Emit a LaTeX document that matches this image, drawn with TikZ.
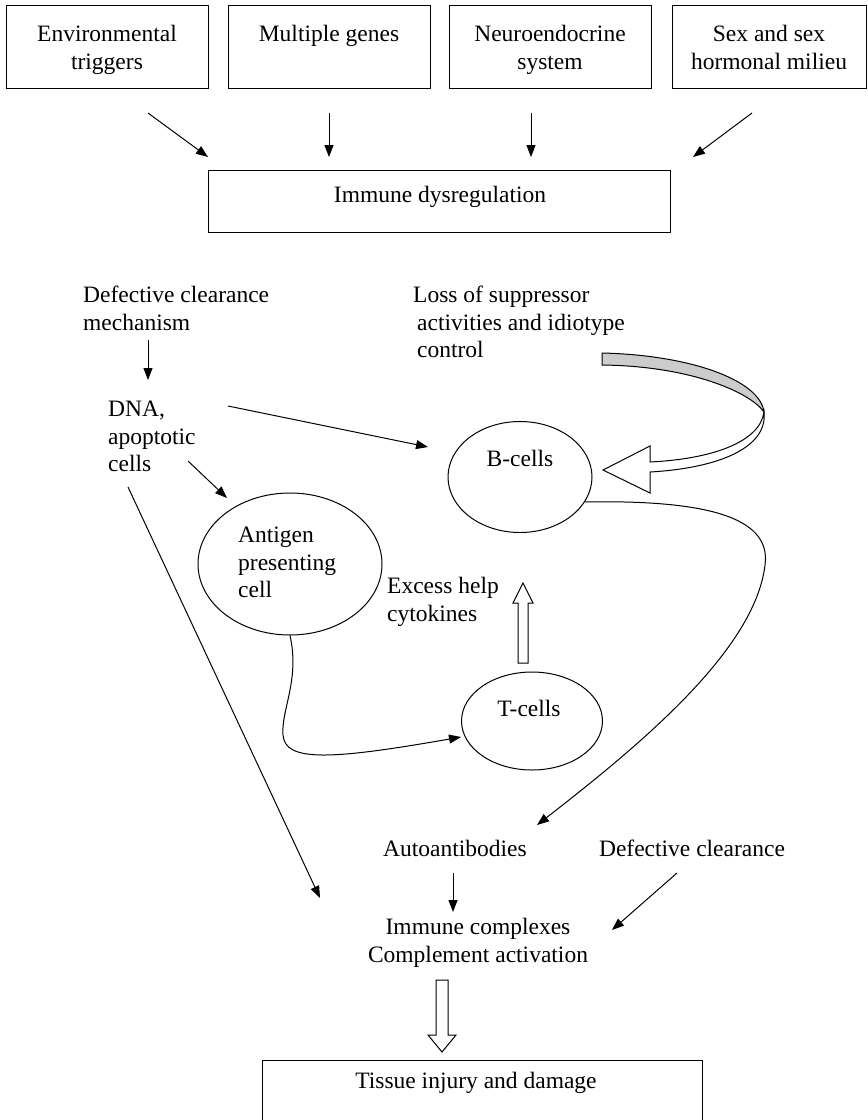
\documentclass[tikz,border=0pt]{standalone}
\usepackage{fontspec}
\setmainfont{Liberation Serif}
\usetikzlibrary{shapes.geometric, arrows.meta, positioning}
\tikzstyle{factor} = [rectangle, draw=black, line width=1pt, minimum width=202pt, minimum height=83pt]
\tikzstyle{cellnode} = [ellipse, draw=black, line width=1pt, inner sep=0pt]
\tikzstyle{txt} = [inner sep=0pt, align=left, font=\fontsize{23.5}{27.5}\selectfont]
\tikzstyle{arrow} = [line width=1pt, -{Triangle[length=12pt,width=9pt]}]
\tikzstyle{blockarrow} = [draw=black, line width=1pt, fill=white, line join=miter]

\begin{document}
\begin{tikzpicture}[x=1pt, y=-1pt]
\useasboundingbox (0,0) rectangle (868,1120);

% Top row of factors
\node (env) [factor] at (107,47) {};
\node (genes) [factor] at (329,47) {};
\node (neuro) [factor] at (550,47) {};
\node (sex) [factor, minimum width=194pt] at (769,47) {};
\node (envtxt) [txt, align=center, anchor=north] at (107,25) {Environmental\\triggers};
\node (genestxt) [txt, anchor=north] at (329,25) {Multiple genes};
\node (neurotxt) [txt, align=center, anchor=north] at (550,25) {Neuroendocrine\\system};
\node (sextxt) [txt, align=center, anchor=north] at (769,25) {Sex and sex\\hormonal milieu};

\node (imm) [factor, minimum width=462pt, minimum height=62pt] at (439,201) {};
\node (immtxt) [txt, anchor=north] at (440,186) {Immune dysregulation};

% Free arrow ends
\coordinate (a1s) at (148,113); \coordinate (a1e) at (208,157);
\coordinate (a2s) at (329,113); \coordinate (a2e) at (329,157);
\coordinate (a3s) at (531,113); \coordinate (a3e) at (531,157);
\coordinate (a4s) at (752,113); \coordinate (a4e) at (693,157);

% Middle part
\node (deftxt) [txt, anchor=north west] at (83,286) {Defective clearance\\mechanism};
\node (dnatxt) [txt, anchor=north west] at (108,401) {DNA,\\apoptotic\\cells};
\node (losstxt) [txt, anchor=north west] at (413,286) {Loss of suppressor\\\hspace{4pt}activities and idiotype\\\hspace{4pt}control};

\node (bcell) [cellnode, minimum width=144pt, minimum height=111pt] at (520,477) {};
\node (bcelltxt) [txt, anchor=north] at (520,450) {B-cells};
\node (apc) [cellnode, minimum width=184pt, minimum height=142pt] at (290,564) {};
\node (apctxt) [txt, anchor=north west] at (238,527) {Antigen\\presenting\\cell};
\node (exctxt) [txt, anchor=north west] at (387,577) {Excess help\\cytokines};
\node (tcell) [cellnode, minimum width=141pt, minimum height=98pt] at (532,721) {};
\node (tcelltxt) [txt, anchor=north] at (529,700) {T-cells};

% Lower part
\node (autotxt) [txt, anchor=north] at (455,840) {Autoantibodies};
\node (clrtxt) [txt, anchor=north] at (692,840) {Defective clearance};
\node (imctxt) [txt, align=center, anchor=north] at (478,918) {Immune complexes\\Complement activation};
\node (tissue) [factor, minimum width=440pt, minimum height=64pt] at (482,1092) {};
\node (tissuetxt) [txt, anchor=north] at (476,1072) {Tissue injury and damage};

% Arrows
\draw [arrow] (a1s) -- (a1e);
\draw [arrow] (a2s) -- (a2e);
\draw [arrow] (a3s) -- (a3e);
\draw [arrow] (a4s) -- (a4e);

\coordinate (d1s) at (148,340); \coordinate (d1e) at (148,380);
\draw [arrow] (d1s) -- (d1e);
\coordinate (dnab) at (228,406); \coordinate (dnabe) at (428,447);
\draw [arrow] (dnab) -- (dnabe);
\coordinate (dnaa) at (188,461); \coordinate (dnaae) at (227,498);
\draw [arrow] (dnaa) -- (dnaae);
\coordinate (dnai) at (128,487); \coordinate (dnaie) at (320,898);
\draw [arrow] (dnai) -- (dnaie);

% APC to T-cells
\draw [arrow] (apc.south) .. controls (300,680) and (281,710) .. (283,735)
  .. controls (285,762) and (330,760) .. (tcell.west |- 0,737);

% B-cells to autoantibodies
\draw [arrow] (bcell.-21) .. controls (700,500) and (772,515) .. (765,565)
  .. controls (755,650) and (640,745) .. (537,825);

\coordinate (aus) at (453,873); \coordinate (aue) at (453,912);
\draw [arrow] (aus) -- (aue);
\coordinate (cls) at (677,873); \coordinate (cle) at (612,930);
\draw [arrow] (cls) -- (cle);

% Block arrows
\draw [blockarrow] (518,663) -- (518,603) -- (513,603) -- (523,583) -- (533,603) -- (528,603) -- (528,663) -- cycle;
\draw [blockarrow] (436,980) -- (448,980) -- (448,1035) -- (456,1035) -- (442,1052) -- (428,1035) -- (436,1035) -- cycle;

% Curved arrow onto B-cells
\draw [line width=1pt, fill=gray!40] (602,353) .. controls (690,355) and (760,380) .. (764,412)
  .. controls (750,392) and (690,366) .. (602,365) -- cycle;
\draw [blockarrow] (650,462) -- (650,446) -- (603,470) -- (650,493) -- (650,472)
  .. controls (720,468) and (768,447) .. (764,412)
  .. controls (760,442) and (712,459) .. (650,462) -- cycle;

\end{tikzpicture}
\end{document}
